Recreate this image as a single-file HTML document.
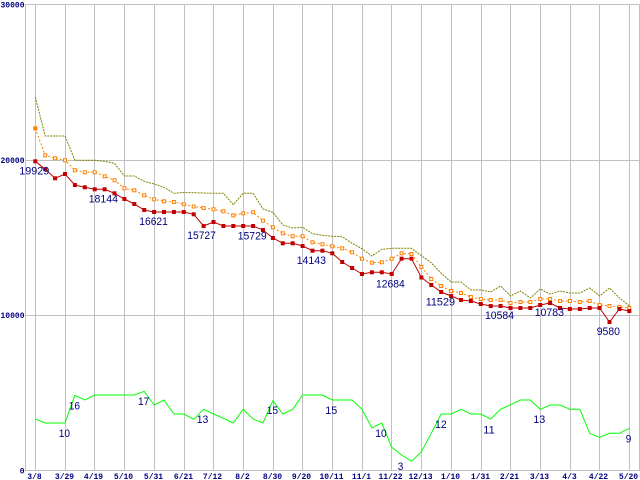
<!DOCTYPE html>
<html><head><meta charset="utf-8"><style>
html,body{margin:0;padding:0;background:#fff;}
svg{display:block;}
.ax{font-family:"Liberation Mono",monospace;font-weight:bold;font-size:8px;fill:#000080;}
.lb{font-family:"Liberation Sans",sans-serif;font-size:11px;fill:#000080;}
</style></head><body>
<svg width="640" height="480" viewBox="0 0 640 480" xmlns="http://www.w3.org/2000/svg">
<defs>
<marker id="rs" markerUnits="userSpaceOnUse" markerWidth="6" markerHeight="6" refX="3" refY="3"><rect x="1" y="1" width="4" height="4" fill="#c00000"/></marker>
<marker id="oh" markerUnits="userSpaceOnUse" markerWidth="6" markerHeight="6" refX="3" refY="3"><rect x="1.5" y="1.5" width="3" height="3" fill="#fff" stroke="#ff8000" stroke-width="1"/></marker>
<marker id="of" markerUnits="userSpaceOnUse" markerWidth="6" markerHeight="6" refX="3" refY="3"><rect x="1" y="1" width="4" height="4" fill="#ff8000"/></marker>
</defs>
<g stroke="#c0c0c0" stroke-width="1" fill="none">
<path d="M25.5 4.5H639.5M25.5 160.5H639.5M25.5 315.5H639.5M25.5 470.5H639.5M25.5 4V471M639.5 4V471
M35.5 4V471M65.5 4V471M94.5 4V471M124.5 4V471M154.5 4V471M184.5 4V471M213.5 4V471M243.5 4V471M273.5 4V471M302.5 4V471M332.5 4V471M362.5 4V471M391.5 4V471M421.5 4V471M451.5 4V471M481.5 4V471M510.5 4V471M540.5 4V471M570.5 4V471M599.5 4V471M629.5 4V471"/>
</g>
<g class="ax">
<text x="24.5" y="7.5" text-anchor="end">30000</text>
<text x="24.5" y="163" text-anchor="end">20000</text>
<text x="24.5" y="318" text-anchor="end">10000</text>
<text x="24.5" y="473.5" text-anchor="end">0</text>
<g text-anchor="middle">
<text x="34.5" y="479">3/8</text>
<text x="64.5" y="479">3/29</text>
<text x="93.5" y="479">4/19</text>
<text x="123.5" y="479">5/10</text>
<text x="153.5" y="479">5/31</text>
<text x="183.5" y="479">6/21</text>
<text x="212.5" y="479">7/12</text>
<text x="242.5" y="479">8/2</text>
<text x="272.5" y="479">8/30</text>
<text x="301.5" y="479">9/20</text>
<text x="331.5" y="479">10/11</text>
<text x="361.5" y="479">11/1</text>
<text x="390.5" y="479">11/22</text>
<text x="420.5" y="479">12/13</text>
<text x="450.5" y="479">1/10</text>
<text x="480.5" y="479">1/31</text>
<text x="509.5" y="479">2/21</text>
<text x="539.5" y="479">3/13</text>
<text x="569.5" y="479">4/3</text>
<text x="598.5" y="479">4/22</text>
<text x="628.5" y="479">5/20</text>
</g>
</g>
<polyline fill="none" stroke="#808000" stroke-width="1" stroke-dasharray="2,1" points="35.3,97.3 45.2,136 55.1,136 65,136 74.9,160.3 84.8,160.3 94.7,160.3 104.6,161.3 114.5,163.3 124.4,176 134.3,176 144.2,181.3 154.1,184 164,187.3 173.9,193.3 183.8,192.5 193.7,192.7 203.6,193 213.5,193.3 223.4,193.3 233.3,204.7 243.2,193.3 253.1,193.3 263,209 272.9,212.3 282.8,225 292.7,228 302.6,227.3 312.5,233.7 322.4,235.3 332.3,236.3 342.2,236.7 352.1,243.3 362,248.7 371.9,256 381.8,249.3 391.7,248.3 401.6,248.3 411.5,248.3 421.4,255.7 431.3,262.7 441.2,273.3 451.1,282 461,282 470.9,290 480.8,290 490.7,292 500.6,286 510.5,296 520.4,291 530.3,298 540.2,289 550.1,294 560,291 569.9,293 579.8,293 589.7,288 599.6,296 609.5,288 619.4,298 629.3,305.7"/>
<polyline fill="none" stroke="#ff8000" stroke-width="1" stroke-dasharray="2,2" marker-start="url(#of)" marker-mid="url(#oh)" marker-end="url(#oh)" points="35.3,128.3 45.2,155.3 55.1,158.3 65,160.3 74.9,170.3 84.8,172.3 94.7,172.3 104.6,176.3 114.5,180.3 124.4,188.3 134.3,190.3 144.2,195.3 154.1,199.3 164,201.3 173.9,202 183.8,204.3 193.7,206.5 203.6,208 213.5,209.3 223.4,211.3 233.3,215.3 243.2,213.3 253.1,212.3 263,220.7 272.9,227.3 282.8,233.3 292.7,236.3 302.6,236.3 312.5,242.3 322.4,244.3 332.3,246.3 342.2,248.3 352.1,252.3 362,258.7 371.9,262.7 381.8,262.3 391.7,258.7 401.6,253.3 411.5,254 421.4,267 431.3,279 441.2,286 451.1,291 461,293 470.9,297 480.8,299 490.7,300 500.6,300 510.5,303 520.4,302 530.3,302 540.2,299 550.1,299 560,301 569.9,301 579.8,302 589.7,301 599.6,305 609.5,306 619.4,307 629.3,308"/>
<polyline fill="none" stroke="#c00000" stroke-width="1" marker-start="url(#rs)" marker-mid="url(#rs)" marker-end="url(#rs)" points="35.3,161.3 45.2,169.3 55.1,178.3 65,174 74.9,185 84.8,187.3 94.7,189.3 104.6,189.3 114.5,193.3 124.4,199 134.3,204 144.2,210 154.1,212 164,212 173.9,212 183.8,212 193.7,214.3 203.6,226 213.5,222 223.4,226 233.3,226 243.2,226 253.1,226 263,230 272.9,238 282.8,243.3 292.7,243.3 302.6,246 312.5,250.7 322.4,250.7 332.3,253.3 342.2,262 352.1,268 362,274 371.9,272.3 381.8,272.3 391.7,274 401.6,258.7 411.5,258.7 421.4,277.5 431.3,285 441.2,292 451.1,296 461,300 470.9,301 480.8,304 490.7,306 500.6,306 510.5,308 520.4,308 530.3,308 540.2,305 550.1,303 560,308 569.9,309 579.8,309 589.7,308 599.6,308 609.5,322 619.4,309 629.3,311"/>
<polyline fill="none" stroke="#00ff00" stroke-width="1" points="35.3,419 45.2,423 55.1,423 65,423 74.9,395.3 84.8,400 94.7,395 104.6,395 114.5,395 124.4,395 134.3,395 144.2,391.3 154.1,405 164,400 173.9,414 183.8,414 193.7,419.3 203.6,409.3 213.5,414 223.4,418.3 233.3,423 243.2,409.3 253.1,419 263,423 272.9,400.7 282.8,414 292.7,409.3 302.6,395 312.5,395 322.4,395 332.3,400 342.2,400 352.1,400 362,409.3 371.9,428 381.8,423 391.7,447.3 401.6,455 411.5,461.3 421.4,451.7 431.3,433.3 441.2,414 451.1,414 461,409.3 470.9,414 480.8,414 490.7,419 500.6,409.3 510.5,404.7 520.4,400 530.3,400 540.2,409.3 550.1,405 560,405 569.9,409.3 579.8,409.3 589.7,433.3 599.6,437.3 609.5,433.3 619.4,433.3 629.3,428.3"/>
<g class="lb">
<text x="19.3" y="174.5" textLength="30" lengthAdjust="spacingAndGlyphs">19929</text>
<text x="88.7" y="202.5" textLength="29.3" lengthAdjust="spacingAndGlyphs">18144</text>
<text x="139.3" y="225.2" textLength="28.5" lengthAdjust="spacingAndGlyphs">16621</text>
<text x="187.3" y="239.2" textLength="28.5" lengthAdjust="spacingAndGlyphs">15727</text>
<text x="237.7" y="239.5" textLength="29" lengthAdjust="spacingAndGlyphs">15729</text>
<text x="296.7" y="264.2" textLength="29.3" lengthAdjust="spacingAndGlyphs">14143</text>
<text x="376" y="287.5" textLength="28.7" lengthAdjust="spacingAndGlyphs">12684</text>
<text x="425.7" y="305.5" textLength="29.3" lengthAdjust="spacingAndGlyphs">11529</text>
<text x="485" y="319.2" textLength="29" lengthAdjust="spacingAndGlyphs">10584</text>
<text x="534.7" y="316.2" textLength="29.3" lengthAdjust="spacingAndGlyphs">10783</text>
<text x="596.7" y="334.8" textLength="23.3" lengthAdjust="spacingAndGlyphs">9580</text>
<text x="58.7" y="436.8" textLength="11.3" lengthAdjust="spacingAndGlyphs">10</text>
<text x="68.7" y="409.5" textLength="11.3" lengthAdjust="spacingAndGlyphs">16</text>
<text x="138" y="405.2" textLength="11.3" lengthAdjust="spacingAndGlyphs">17</text>
<text x="196.7" y="423.2" textLength="11.6" lengthAdjust="spacingAndGlyphs">13</text>
<text x="266.7" y="414.2" textLength="11.3" lengthAdjust="spacingAndGlyphs">15</text>
<text x="325.3" y="414.2" textLength="12" lengthAdjust="spacingAndGlyphs">15</text>
<text x="375.3" y="437.2" textLength="11.4" lengthAdjust="spacingAndGlyphs">10</text>
<text x="397.7" y="469.8" textLength="5.6" lengthAdjust="spacingAndGlyphs">3</text>
<text x="435" y="428.2" textLength="11.7" lengthAdjust="spacingAndGlyphs">12</text>
<text x="483.3" y="433.5" textLength="11.4" lengthAdjust="spacingAndGlyphs">11</text>
<text x="533.3" y="422.8" textLength="12" lengthAdjust="spacingAndGlyphs">13</text>
<text x="625.7" y="442.5" textLength="5.6" lengthAdjust="spacingAndGlyphs">9</text>
</g>
</svg>
</body></html>
